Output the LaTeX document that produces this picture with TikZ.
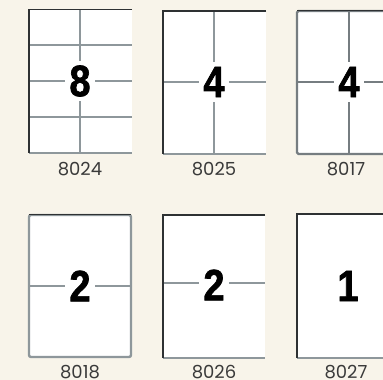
\documentclass[tikz,border=0pt]{standalone}
\usepackage{fontspec}
\usepackage{xcolor}
\usetikzlibrary{positioning}
\newfontfamily\numfont[FakeStretch=0.86,FakeBold=1.6]{Liberation Sans}
\newfontfamily\labfont{Poppins}
\definecolor{fcream}{HTML}{F8F4EA}
\definecolor{fedge}{HTML}{2E3133}
\definecolor{fgrid}{HTML}{8E979B}
\definecolor{fframe}{HTML}{767D81}
\definecolor{flabel}{HTML}{3A3A3A}

\begin{document}
\begin{tikzpicture}[x=1pt,y=-1pt,
  sheet/.style={fill=white},
  edge/.style={draw=fedge,line width=1.3pt},
  grid/.style={draw=fgrid,line width=1.3pt},
  frame/.style={draw=fframe,line width=2.4pt},
  count/.style={fill=white,inner sep=4.5pt,font=\numfont\bfseries\fontsize{44}{44}\selectfont},
  code/.style={text=flabel,inner sep=0pt,font=\labfont\fontsize{18}{20}\selectfont}]

\useasboundingbox (0,0) rectangle (383,380);
\fill[fcream] (0,0) rectangle (383,380);
\clip (0,0) rectangle (383,380);

% ================= row 1 =================
% 8024: eight labels
\fill[sheet] (29,9.5) rectangle (132,153);
\foreach \y in {45,81,117} \draw[grid] (29,\y) -- (132,\y);
\draw[grid] (80,9.5) -- (80,153);
\draw[grid] (29,153) -- (132,153);
\draw[edge] (132,9.5) -- (29,9.5) -- (29,153);
\node[count] (n8024) at (80,81) {8};
\node[code] (l8024) at (80,169) {8024};

% 8025: four labels
\fill[sheet] (163,11) rectangle (266,154);
\draw[grid] (214,11) -- (214,154);
\draw[grid] (163,82) -- (266,82);
\draw[grid] (163,154) -- (266,154);
\draw[edge] (266,11) -- (163,11) -- (163,154);
\node[count] (n8025) at (214,82) {4};
\node[code] (l8025) at (214,169) {8025};

% 8017: four labels, framed
\fill[sheet] (297,11) rectangle (400,154);
\draw[frame] (349,11) -- (349,154);
\draw[frame] (297,82) -- (400,82);
\draw[frame,rounded corners=1.5pt] (400,11) -- (297,11) -- (297,154) -- (400,154);
\draw[draw=fedge,line width=0.8pt] (297,10.3) -- (400,10.3);
\node[count] (n8017) at (349,82) {4};
\node[code] (l8017) at (346,169) {8017};

% ================= row 2 =================
% 8018: two labels, framed
\fill[sheet] (29,215) rectangle (131,357);
\draw[frame,draw=fgrid] (29,286) -- (131,286);
\draw[frame,draw=fgrid,rounded corners=2pt] (29,215) rectangle (131,357);
\draw[draw=fedge,line width=0.8pt] (29,214.3) -- (131,214.3);
\node[count] (n8018) at (80,286) {2};
\node[code] (l8018) at (80,372) {8018};

% 8026: two labels
\fill[sheet] (163,215) rectangle (265,358);
\draw[grid] (163,283) -- (265,283);
\draw[grid] (163,358) -- (265,358);
\draw[edge] (265,215) -- (163,215) -- (163,358);
\node[count] (n8026) at (214,285) {2};
\node[code] (l8026) at (214,372) {8026};

% 8027: one label
\fill[sheet] (297,214) rectangle (400,358);
\draw[grid] (297,358) -- (400,358);
\draw[edge] (400,214) -- (297,214) -- (297,358);
\node[count] (n8027) at (348,286) {1};
\node[code] (l8027) at (346,372) {8027};
\end{tikzpicture}
\end{document}
